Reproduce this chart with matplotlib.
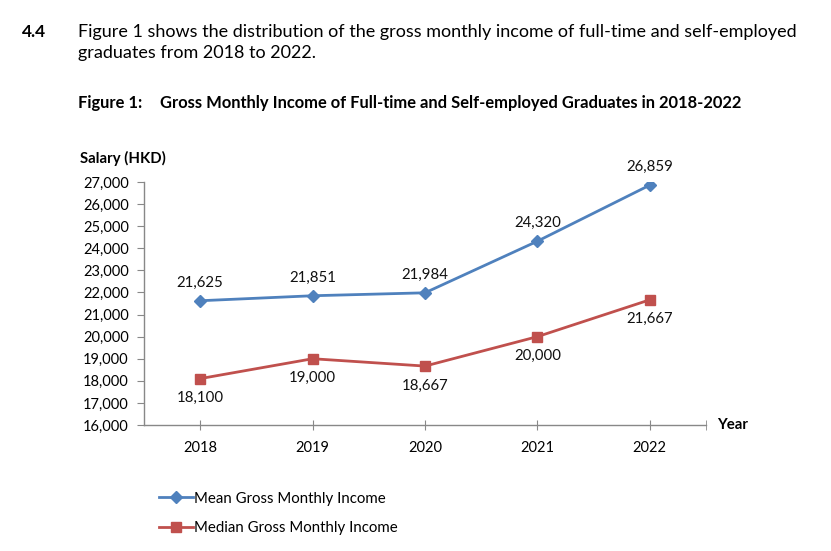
import matplotlib
matplotlib.use("Agg")
import matplotlib.pyplot as plt
from matplotlib.lines import Line2D

years = ["2018", "2019", "2020", "2021", "2022"]
mean_income = [21625, 21851, 21984, 24320, 26859]
median_income = [18100, 19000, 18667, 20000, 21667]
y_ticks = list(range(16000, 27001, 1000))

plt.rcParams['font.family'] = ['Lato', 'DejaVu Sans']

W, H = 831, 551
fig = plt.figure(figsize=(W/100, H/100), dpi=100)

def fx(px): return px / W
def fy(py): return 1 - py / H

ax = fig.add_axes([fx(144), fy(425), fx(706) - fx(144), fy(182) - fy(425)])

blue = "#4F81BD"
red = "#C0504D"
x = list(range(len(years)))
ax.plot(x, mean_income, color=blue, lw=2, marker="D", ms=6.5, label="Mean Gross Monthly Income")
ax.plot(x, median_income, color=red, lw=2, marker="s", ms=7.5, label="Median Gross Monthly Income")

for xi, v in zip(x, mean_income):
    ax.annotate(f"{v:,}", (xi, v), xytext=(0, 13), textcoords="offset points",
                ha="center", va="center", fontsize=10.8, color="#111111")
for xi, v in zip(x, median_income):
    ax.annotate(f"{v:,}", (xi, v), xytext=(0, -14), textcoords="offset points",
                ha="center", va="center", fontsize=10.8, color="#111111")

ax.set_xlim(-0.5, len(years) - 0.5)
ax.set_ylim(16000, 27000)
ax.set_yticks(y_ticks)
ax.set_yticklabels([f"{t:,}" for t in y_ticks], fontsize=10.5)
ax.set_xticks(x)
ax.set_xticklabels(years, fontsize=10.5)
ax.set_xticks([len(years) - 0.5], minor=True)
ax.tick_params(axis="x", which="both", direction="inout", length=7, color="#888888", pad=8)
ax.tick_params(axis="y", direction="out", length=5, color="#888888", pad=6)
for s in ["top", "right"]:
    ax.spines[s].set_visible(False)
for s in ["left", "bottom"]:
    ax.spines[s].set_color("#888888")
    ax.spines[s].set_linewidth(1)

fig.text(fx(80), fy(158), "Salary (HKD)", fontsize=10.7, fontweight="bold", va="center", ha="left")
fig.text(fx(717), fy(425), "Year", fontsize=10.8, fontweight="bold", va="center", ha="left")

fig.text(fx(22), fy(32), "4.4", fontsize=12.5, fontweight="bold", va="center", ha="left")
fig.text(fx(78), fy(32), "Figure 1 shows the distribution of the gross monthly income of full-time and self-employed",
         fontsize=13, va="center", ha="left")
fig.text(fx(78), fy(53), "graduates from 2018 to 2022.", fontsize=13, va="center", ha="left")
fig.text(fx(78), fy(103), "Figure 1:", fontsize=11.9, fontweight="bold", va="center", ha="left")
fig.text(fx(160), fy(103), "Gross Monthly Income of Full-time and Self-employed Graduates in 2018-2022",
         fontsize=11.9, fontweight="bold", va="center", ha="left")

handles = [Line2D([], [], color=blue, lw=2, marker="D", ms=6.5),
           Line2D([], [], color=red, lw=2, marker="s", ms=7.5)]
fig.legend(handles, ["Mean Gross Monthly Income", "Median Gross Monthly Income"],
           loc="upper left", bbox_to_anchor=(fx(151), fy(484)), frameon=False,
           fontsize=10.8, handlelength=2.3, handletextpad=0.1, labelspacing=1.05, borderpad=0)

fig.savefig("out.png", dpi=100)
